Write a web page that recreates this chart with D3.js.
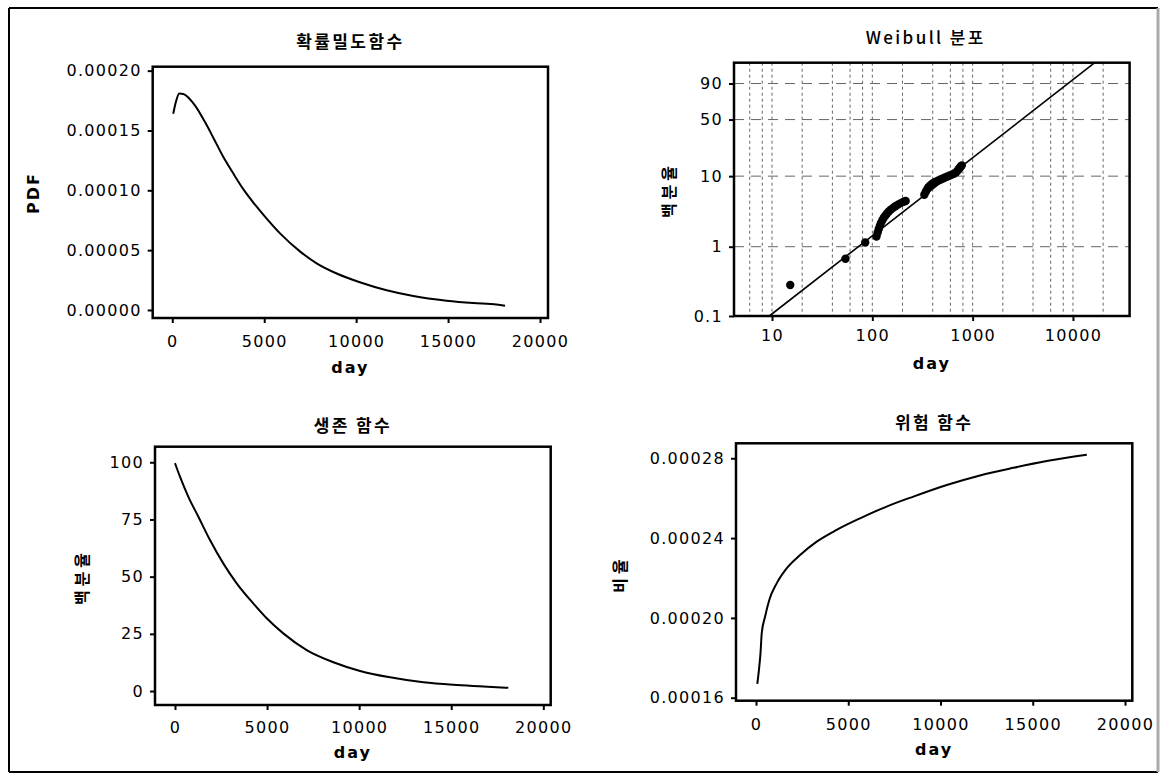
<!DOCTYPE html>
<html><head><meta charset="utf-8">
<script src="https://cdn.jsdelivr.net/npm/d3@7"></script>
<style>
body{margin:0;background:#fff;}
svg{display:block;}
</style></head>
<body>
<svg id="c" width="1165" height="776"></svg>
<script>
// ---------------- data ----------------
const pdfDays   = [50, 180, 380, 600, 1230, 1780, 2230, 2770, 3320, 3860, 4500, 5040, 5860, 6940, 7850, 8940, 10200, 11660, 13110, 14920, 16370, 17640, 18100];
const pdfValues = [0.000164, 0.000173, 0.000181, 0.0001805, 0.000171, 0.000157, 0.000144, 0.000128, 0.000114, 0.000101, 0.0000880, 0.0000780, 0.0000640, 0.0000490, 0.0000390, 0.0000305, 0.0000232, 0.0000165, 0.0000117, 0.0000078, 0.0000058, 0.0000046, 0.0000036];

const survDays    = [0, 270, 720, 1270, 1900, 2620, 3350, 4250, 4980, 5880, 7150, 8600, 10050, 11680, 13490, 15110, 16740, 18100];
const survPercent = [99.6, 93.7, 85, 76.2, 66, 55.8, 47.1, 38.3, 31.8, 25.2, 17.9, 12.6, 8.8, 6.0, 3.8, 2.7, 2.0, 1.4];

const hazDays = [70, 160, 250, 310, 490, 720, 1120, 1660, 2390, 3290, 4370, 5640, 7080, 8530, 10340, 12140, 13950, 15760, 17930];
const hazRate = [0.0001669, 0.0001739, 0.0001831, 0.0001923, 0.0002006, 0.000209, 0.0002173, 0.0002248, 0.0002315, 0.0002382, 0.0002441, 0.0002499, 0.0002558, 0.0002608, 0.0002666, 0.0002714, 0.0002752, 0.0002786, 0.0002818];

const probDays    = [15.2, 54, 85, 110, 113, 116, 119, 122, 126, 130, 135, 140, 146, 153, 161, 170, 180, 192, 205, 215, 330, 340, 350, 362, 375, 392, 410, 430, 455, 480, 505, 530, 560, 590, 620, 650, 680, 705, 725, 745, 765, 780];
const probPercent = [0.28, 0.67, 1.15, 1.4, 1.6, 1.8, 2.0, 2.2, 2.4, 2.6, 2.8, 3.0, 3.2, 3.4, 3.6, 3.8, 4.0, 4.2, 4.4, 4.5, 5.5, 6.0, 6.5, 7.0, 7.4, 7.8, 8.1, 8.4, 8.7, 9.0, 9.3, 9.6, 9.9, 10.2, 10.5, 10.8, 11.2, 11.8, 12.4, 13.0, 13.6, 14.0];
const fitDays    = [9.4, 16500];
const fitPercent = [0.1, 99];

const dayTicks   = [0, 5000, 10000, 15000, 20000];
const pdfTicks   = [0, 0.00005, 0.0001, 0.00015, 0.0002];
const survTicks  = [0, 25, 50, 75, 100];
const hazTicks   = [0.00016, 0.0002, 0.00024, 0.00028];
const probXTicks = [10, 100, 1000, 10000];
const probYTicks = [0.1, 1, 10, 50, 90];
const probXGrid  = [6, 8, 10, 20, 40, 60, 80, 100, 200, 400, 600, 800, 1000, 2000, 4000, 6000, 8000, 10000, 20000];

const titles  = ["확률밀도함수", "Weibull 분포", "생존 함수", "위험 함수"];
const yTitles = ["PDF", "백분율", "백분율", "비율"];
const xTitle  = "day";

// ---------------- drawing ----------------
const svg = d3.select("#c");
const LAT = "'DejaVu Sans', sans-serif";
const KOR = "'Noto Sans CJK KR', 'DejaVu Sans', sans-serif";

svg.append("rect").attr("width", 1165).attr("height", 776).attr("fill", "#fff");
// outer border
svg.append("path").attr("d", "M9,8 H1158 M9,8 V772 M9,772 H1158").attr("stroke", "#000").attr("stroke-width", 2).attr("fill", "none");
svg.append("line").attr("x1", 1158).attr("x2", 1158).attr("y1", 8).attr("y2", 772).attr("stroke", "#aaa").attr("stroke-width", 3);

const wb = p => Math.log(-Math.log(1 - p / 100));

const panels = [
  {f: {x0: 152.7, x1: 548, y0: 66.7, y1: 318},
   x: d3.scaleLinear().domain([-1066, 20435]), y: d3.scaleLinear().domain([-0.0000067, 0.0002033]),
   xt: dayTicks, yt: pdfTicks, xf: d3.format("d"), yf: d3.format(".5f"), xpad: 13, title: 0, tY: 48, dayY: 373,
   yl: {x: 33, y: 193, font: LAT, ls: 2}},
  {f: {x0: 734, x1: 1129.6, y0: 62.7, y1: 316},
   x: d3.scaleLog().domain([4.18, 36700]), y: d3.scaleLinear().domain([wb(0.1), wb(99)]),
   xt: probXTicks, yt: probYTicks, xf: d => String(d), yf: d => String(d), xpad: 9, title: 1, tY: 44, dayY: 369,
   yl: {x: 668, y: 190, font: KOR, ls: 4}, prob: true},
  {f: {x0: 155, x1: 550.7, y0: 446.7, y1: 705},
   x: d3.scaleLinear().domain([-1086, 20402]), y: d3.scaleLinear().domain([-6.1, 106.8]),
   xt: dayTicks, yt: survTicks, xf: d3.format("d"), yf: d3.format("d"), xpad: 12, title: 2, tY: 432, dayY: 758,
   yl: {x: 81, y: 577, font: KOR, ls: 4}},
  {f: {x0: 736, x1: 1132.3, y0: 443.3, y1: 700.7},
   x: d3.scaleLinear().domain([-1084, 20396]), y: d3.scaleLinear().domain([0.0001585, 0.0002875]),
   xt: dayTicks, yt: hazTicks, xf: d3.format("d"), yf: d3.format(".5f"), xpad: 13, title: 3, tY: 429, dayY: 755,
   yl: {x: 619, y: 574, font: KOR, ls: 4}}
];

panels.forEach((p, i) => {
  const f = p.f;
  p.x.range([f.x0, f.x1]);
  p.y.range([f.y1, f.y0]);
  const yPos = p.prob ? (v => p.y(wb(v))) : (v => p.y(v));

  svg.append("rect").attr("x", f.x0).attr("y", f.y0).attr("width", f.x1 - f.x0).attr("height", f.y1 - f.y0).attr("fill", "#fff");

  // axes
  const ax = svg.append("g").attr("transform", `translate(0,${f.y1})`)
    .call(d3.axisBottom(p.x).tickValues(p.xt).tickFormat(p.xf).tickSize(5).tickPadding(p.xpad));
  const ay = svg.append("g").attr("transform", `translate(${f.x0},0)`)
    .call(d3.axisLeft(p.prob ? d3.scaleLinear().domain(p.y.domain()).range(p.y.range()) : p.y)
      .tickValues(p.prob ? p.yt.map(wb) : p.yt)
      .tickFormat(p.prob ? ((d, j) => p.yf(p.yt[j])) : p.yf).tickSize(5).tickPadding(6));
  [ax, ay].forEach(a => {
    a.select(".domain").remove();
    a.selectAll("line").attr("stroke", "#000").attr("stroke-width", 2);
    a.selectAll("text").attr("font-family", LAT).attr("font-size", 16).attr("letter-spacing", "1.3px").attr("fill", "#000");
  });

  if (p.prob) {
    const g = svg.append("g");
    g.selectAll(".vg").data(probXGrid).join("line")
      .attr("x1", d => p.x(d)).attr("x2", d => p.x(d)).attr("y1", f.y0).attr("y2", f.y1)
      .attr("stroke", "#666").attr("stroke-width", 1).attr("stroke-dasharray", "3,3");
    g.selectAll(".hg").data(probYTicks.slice(1)).join("line")
      .attr("x1", f.x0).attr("x2", f.x1).attr("y1", d => yPos(d)).attr("y2", d => yPos(d))
      .attr("stroke", "#666").attr("stroke-width", 1).attr("stroke-dasharray", "10,7");
    svg.append("line")
      .attr("x1", p.x(fitDays[0])).attr("y1", yPos(fitPercent[0]))
      .attr("x2", p.x(fitDays[1])).attr("y2", yPos(fitPercent[1]))
      .attr("stroke", "#000").attr("stroke-width", 1.6);
    svg.selectAll(".pt").data(probDays).join("circle")
      .attr("cx", d => p.x(d)).attr("cy", (d, j) => yPos(probPercent[j])).attr("r", 4.2).attr("fill", "#000");
  } else {
    const xs = [pdfDays, null, survDays, hazDays][i];
    const ys = [pdfValues, null, survPercent, hazRate][i];
    const line = d3.line().x(d => p.x(d[0])).y(d => p.y(d[1])).curve(d3.curveMonotoneX);
    svg.append("path").datum(xs.map((d, j) => [d, ys[j]])).attr("d", line)
      .attr("fill", "none").attr("stroke", "#000").attr("stroke-width", 2);
  }

  svg.append("rect").attr("x", f.x0).attr("y", f.y0).attr("width", f.x1 - f.x0).attr("height", f.y1 - f.y0)
    .attr("fill", "none").attr("stroke", "#000").attr("stroke-width", 2.5);

  // titles
  const cx = (f.x0 + f.x1) / 2;
  svg.append("text").attr("x", p.title === 1 ? cx - 6 : cx).attr("y", p.tY).attr("text-anchor", "middle")
    .attr("font-family", KOR).attr("font-size", 17).attr("font-weight", p.title === 1 ? 500 : 700)
    .attr("letter-spacing", "2.4px").attr("fill", "#000").text(titles[p.title]);
  svg.append("text").attr("x", cx).attr("y", p.dayY).attr("text-anchor", "middle")
    .attr("font-family", LAT).attr("font-size", 16).attr("font-weight", 700).attr("letter-spacing", "2px")
    .attr("fill", "#000").text(xTitle);
  svg.append("text").attr("transform", `translate(${p.yl.x},${p.yl.y}) rotate(-90)`)
    .attr("text-anchor", "middle").attr("dominant-baseline", "central")
    .attr("font-family", p.yl.font).attr("font-size", 16).attr("font-weight", 700)
    .attr("letter-spacing", p.yl.ls + "px").attr("fill", "#000").text(yTitles[i]);
});
</script>
</body></html>
